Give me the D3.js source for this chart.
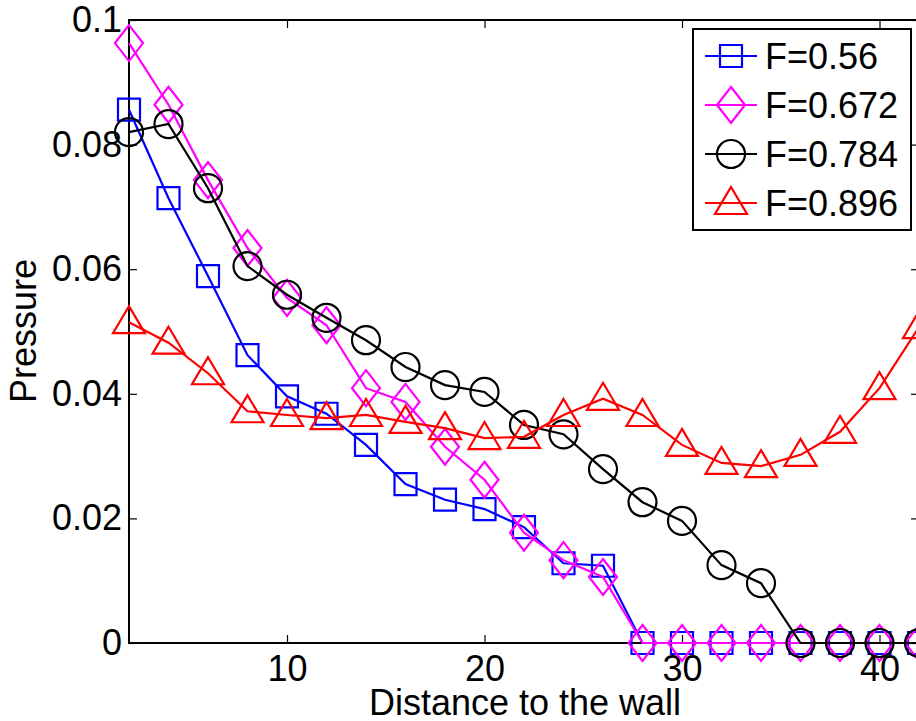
<!DOCTYPE html>
<html>
<head>
<meta charset="utf-8">
<script src="https://cdn.jsdelivr.net/npm/d3@7"></script>
<style>
  body { margin: 0; background: #fff; }
  text { font-family: "Liberation Sans", Arial, sans-serif; fill: #000; }
</style>
</head>
<body>
<div id="chart"></div>
<script>
// distances (x values)
var distance = [2, 4, 6, 8, 10, 12, 14, 16, 18, 20, 22, 24, 26, 28, 30, 32, 34, 36, 38, 40, 42];

// pressure for each F
var f056 = [0.0856, 0.0714, 0.0589, 0.0462, 0.0396, 0.0368, 0.0318, 0.0255, 0.0230, 0.0215, 0.0186,
  0.0128, 0.0124, 0, 0, 0, 0, 0, 0, 0, 0];
var f0672 = [0.0963, 0.0864, 0.0743, 0.0634, 0.0554, 0.0510, 0.0409, 0.0387, 0.0315, 0.0262, 0.0177,
  0.0133, 0.0106, 0, 0, 0, 0, 0, 0, 0, 0];
var f0784 = [0.0820, 0.0833, 0.0730, 0.0605, 0.0559, 0.0522, 0.0486, 0.0443, 0.0414, 0.0403, 0.0350,
  0.0335, 0.0279, 0.0226, 0.0196, 0.0125, 0.0096, 0, 0, 0, 0];
var f0896 = [0.0515, 0.0482, 0.0433, 0.0372, 0.0366, 0.0361, 0.0366, 0.0355, 0.0345, 0.0329, 0.0331,
  0.0366, 0.0392, 0.0366, 0.0318, 0.0289, 0.0284, 0.0302, 0.0339, 0.0409, 0.0507];

var series_names = ['F=0.56', 'F=0.672', 'F=0.784', 'F=0.896'];
var x_ticks = [10, 20, 30, 40];
var y_ticks = [0, 0.02, 0.04, 0.06, 0.08, 0.1];

var series = [
  { name: series_names[0], values: f056, color: '#0000ff', marker: 'square' },
  { name: series_names[1], values: f0672, color: '#ff00ff', marker: 'diamond' },
  { name: series_names[2], values: f0784, color: '#000000', marker: 'circle' },
  { name: series_names[3], values: f0896, color: '#ff0000', marker: 'triangle' }
];

var chart_width = 916;
var chart_height = 721;
var plot_left = 129, plot_right = 919, plot_top = 20, plot_bottom = 643;
var font_size = 36;

var svg = d3.select('#chart')
  .append('svg')
  .attr('width', chart_width)
  .attr('height', chart_height);

var x_scale = d3.scaleLinear().domain([2, 42]).range([plot_left, plot_right]);
var y_scale = d3.scaleLinear().domain([0, 0.1]).range([plot_bottom, plot_top]);

// marker paths centred on 0,0
function marker_path(type) {
  if (type === 'square') return 'M-11,-11H11V11H-11Z';
  if (type === 'diamond') return 'M0,-18L14,0L0,18L-14,0Z';
  if (type === 'triangle') return 'M0,-16L16,11H-16Z';
  return null;
}

function draw_marker(g, type, color) {
  if (type === 'circle') {
    g.append('circle').attr('r', 14)
      .attr('fill', 'none').attr('stroke', color).attr('stroke-width', 2.2);
  } else {
    g.append('path').attr('d', marker_path(type))
      .attr('fill', 'none').attr('stroke', color).attr('stroke-width', 2.2);
  }
}

// box
svg.append('rect')
  .attr('x', plot_left).attr('y', plot_top)
  .attr('width', plot_right - plot_left).attr('height', plot_bottom - plot_top)
  .attr('fill', 'none').attr('stroke', '#000').attr('stroke-width', 2);

// axes, ticks point inward (matlab style)
var x_axis = d3.axisBottom(x_scale).tickValues(x_ticks).tickSize(-8).tickPadding(12)
  .tickFormat(d3.format('d'));
var y_axis = d3.axisLeft(y_scale).tickValues(y_ticks).tickSize(-8).tickPadding(7)
  .tickFormat(function(d) { return d === 0 ? '0' : d3.format('.2~f')(d); });

var gx = svg.append('g').attr('transform', 'translate(0,' + plot_bottom + ')').call(x_axis);
var gy = svg.append('g').attr('transform', 'translate(' + plot_left + ',0)').call(y_axis);
svg.append('g').attr('transform', 'translate(0,' + plot_top + ')')
  .call(d3.axisTop(x_scale).tickValues(x_ticks).tickSize(-8).tickFormat(''));
svg.append('g').attr('transform', 'translate(' + plot_right + ',0)')
  .call(d3.axisRight(y_scale).tickValues(y_ticks).tickSize(-8).tickFormat(''));

svg.selectAll('.domain').remove();
svg.selectAll('.tick line').attr('stroke', '#000').attr('stroke-width', 1.2);
gx.selectAll('text').attr('font-size', font_size).attr('dy', '0.71em')
  .style('font-family', '"Liberation Sans", Arial, sans-serif');
gy.selectAll('text').attr('font-size', font_size)
  .style('font-family', '"Liberation Sans", Arial, sans-serif');

// axis labels
svg.append('text')
  .attr('x', 525).attr('y', 715)
  .attr('text-anchor', 'middle').attr('font-size', font_size)
  .text('Distance to the wall');
svg.append('text')
  .attr('transform', 'translate(36,331) rotate(-90)')
  .attr('text-anchor', 'middle').attr('font-size', font_size)
  .text('Pressure');

// lines + markers
var line = d3.line()
  .x(function(d, i) { return x_scale(distance[i]); })
  .y(function(d) { return y_scale(d); });

series.forEach(function(s) {
  var g = svg.append('g');
  g.append('path')
    .attr('d', line(s.values))
    .attr('fill', 'none').attr('stroke', s.color).attr('stroke-width', 2.2);
  g.selectAll('g.mk')
    .data(s.values)
    .enter()
    .append('g')
    .attr('class', 'mk')
    .attr('transform', function(d, i) {
      return 'translate(' + x_scale(distance[i]) + ',' + y_scale(d) + ')';
    })
    .each(function() { draw_marker(d3.select(this), s.marker, s.color); });
});

// legend
var legend = svg.append('g');
legend.append('rect')
  .attr('x', 693).attr('y', 29).attr('width', 218).attr('height', 201)
  .attr('fill', '#fff').attr('stroke', '#000').attr('stroke-width', 2);

var items = legend.selectAll('g.item')
  .data(series)
  .enter()
  .append('g')
  .attr('class', 'item')
  .attr('transform', function(d, i) { return 'translate(0,' + (56 + i * 49) + ')'; });

items.append('line')
  .attr('x1', 705).attr('x2', 757).attr('y1', 0).attr('y2', 0)
  .attr('stroke', function(d) { return d.color; }).attr('stroke-width', 2.2);
items.append('g')
  .attr('transform', 'translate(731,0)')
  .each(function(d) { draw_marker(d3.select(this), d.marker, d.color); });
items.append('text')
  .attr('x', 765).attr('y', 0).attr('dy', '0.36em')
  .attr('font-size', font_size)
  .text(function(d) { return d.name; });
</script>
</body>
</html>
